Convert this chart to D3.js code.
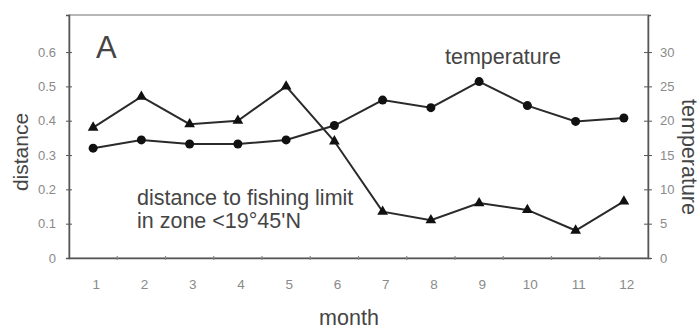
<!DOCTYPE html>
<html><head><meta charset="utf-8">
<script src="https://cdn.jsdelivr.net/npm/d3@7"></script>
<style>body{margin:0;background:#fff}svg{display:block}text{font-family:"Liberation Sans",Arial,sans-serif}</style>
</head><body><svg id="c" width="700" height="331"></svg>
<script>
const months = ["1","2","3","4","5","6","7","8","9","10","11","12"];
const distance = [0.38,0.47,0.39,0.40,0.50,0.34,0.135,0.11,0.16,0.14,0.08,0.165];
const temperature = [16.0,17.2,16.6,16.6,17.2,19.3,23.0,21.9,25.7,22.2,19.9,20.4];
const leftTicks = [0,0.1,0.2,0.3,0.4,0.5,0.6];
const rightTicks = [0,5,10,15,20,25,30];

const svg = d3.select("#c");
const L=69,R=648,T=15,B=258;
const x = d3.scaleBand().domain(months).range([L,R]);
const yL = d3.scaleLinear().domain([0,0.708]).range([B,T]);
const yR = d3.scaleLinear().domain([0,35.4]).range([B,T]);
const ink="#2a2a2a", lab="#8a8a8a", txt="#454545";

// frame
svg.append("rect").attr("x",L).attr("y",T).attr("width",R-L).attr("height",B-T)
  .attr("fill","none").attr("stroke","#a0a0a0").attr("stroke-width",1.5);

// left axis
const gl = svg.append("g").attr("transform",`translate(${L},0)`)
  .call(d3.axisLeft(yL).tickValues(leftTicks).tickSize(3).tickFormat(d=>d===0?"0":d3.format(".1f")(d)));
gl.select(".domain").attr("stroke","#555").attr("stroke-width",1.5);
gl.selectAll(".tick line").attr("stroke","#555").attr("x2",-3).attr("x1",3);
gl.selectAll(".tick text").attr("fill",lab).attr("font-size",13).attr("x",-13);

// right axis
const gr = svg.append("g").attr("transform",`translate(${R},0)`)
  .call(d3.axisRight(yR).tickValues(rightTicks).tickSize(3));
gr.select(".domain").attr("stroke","#555").attr("stroke-width",1.5);
gr.selectAll(".tick line").attr("stroke","#555").attr("x1",-4).attr("x2",4);
gr.selectAll(".tick text").attr("fill",lab).attr("font-size",13).attr("x",12);

// bottom axis
const gb = svg.append("g").attr("transform",`translate(0,${B})`)
  .call(d3.axisBottom(x).tickSize(0).tickPadding(21));
gb.select(".domain").attr("stroke","#555").attr("stroke-width",1.5);
gb.selectAll(".tick text").attr("fill",lab).attr("font-size",13.5).attr("dx",3);
gb.selectAll(".btick").data(months.slice(1)).enter().append("line")
  .attr("x1",d=>x(d)).attr("x2",d=>x(d)).attr("y1",-2).attr("y2",2)
  .attr("stroke","#888").attr("stroke-width",1.2);

// lines
const cx = i => x(months[i])+x.bandwidth()/2;
const lineD = d3.line().x((d,i)=>cx(i)).y(d=>yL(d));
const lineT = d3.line().x((d,i)=>cx(i)).y(d=>yR(d));
svg.append("path").attr("d",lineD(distance)).attr("fill","none").attr("stroke",ink).attr("stroke-width",2);
svg.append("path").attr("d",lineT(temperature)).attr("fill","none").attr("stroke",ink).attr("stroke-width",2);

const tri = d3.symbol().type(d3.symbolTriangle).size(50);
svg.selectAll(".tri").data(distance).enter().append("path")
  .attr("d",tri).attr("fill","#111")
  .attr("transform",(d,i)=>`translate(${cx(i)},${yL(d)})`);
svg.selectAll(".dot").data(temperature).enter().append("circle")
  .attr("cx",(d,i)=>cx(i)).attr("cy",d=>yR(d)).attr("r",4.5).attr("fill","#111");

// labels
svg.append("text").attr("x",96).attr("y",58).attr("font-size",31).attr("fill",txt).text("A");
svg.append("text").attr("x",445).attr("y",64).attr("font-size",21.5).attr("fill",txt).text("temperature");
svg.append("text").attr("x",137).attr("y",205).attr("font-size",21.5).attr("fill",txt).text("distance to fishing limit");
svg.append("text").attr("x",137).attr("y",228).attr("font-size",21.5).attr("fill",txt).text("in zone <19°45'N");
svg.append("text").attr("x",349).attr("y",325).attr("text-anchor","middle").attr("font-size",21.5).attr("fill",txt).text("month");
svg.append("text").attr("transform","translate(28,152) rotate(-90)").attr("text-anchor","middle").attr("font-size",21).attr("fill",txt).text("distance");
svg.append("text").attr("transform","translate(682,157) rotate(90)").attr("text-anchor","middle").attr("font-size",21.5).attr("fill",txt).text("temperature");
</script></body></html>
